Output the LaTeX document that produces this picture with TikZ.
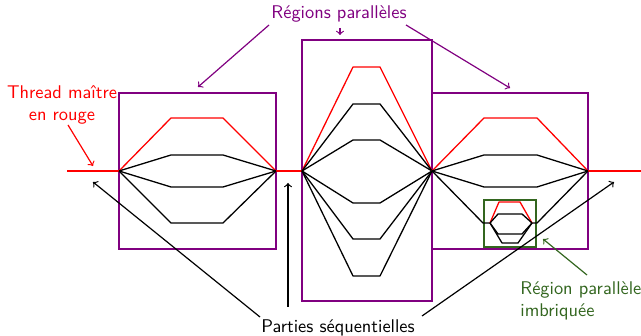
\documentclass[tikz,border=0pt]{standalone}
\usetikzlibrary{fit}
\definecolor{regviolet}{rgb}{0.5,0,0.5}
\definecolor{nestgreen}{rgb}{0.2,0.4,0.12}
\begin{document}
\begin{tikzpicture}[x=0.5435pt, y=-0.5435pt, font=\sffamily,
  regbox/.style={draw=regviolet, line width=0.9pt, inner sep=0pt},
  nestbox/.style={draw=nestgreen, line width=0.9pt, inner sep=0pt},
  thr/.style={line width=0.7pt, line join=round},
  master/.style={thr, red},
  lbl/.style={inner sep=0pt, align=center},
  parr/.style={->, line width=0.65pt, regviolet},
  sarr/.style={->, line width=0.65pt, black},
  marr/.style={->, line width=0.65pt, red},
  narr/.style={->, line width=0.65pt, nestgreen}]
\useasboundingbox (0,0) rectangle (641,336);

% parallel regions
\node[regbox, fit={(119,93) (276,249)}] (r1) {};
\node[regbox, fit={(302,40) (432,301)}] (r2) {};
\node[regbox, fit={(432,93) (588,249)}] (r3) {};
\node[nestbox, fit={(484,200) (536,247)}] (r4) {};

% fork / join points
\coordinate (start) at (67,171);
\coordinate (f1) at (119,171);
\coordinate (j1) at (276,171);
\coordinate (f2) at (302,171);
\coordinate (j2) at (432,171);
\coordinate (f3) at (432,171);
\coordinate (j3) at (588,171);
\coordinate (stop) at (641,171);
\coordinate (n1) at (490,223);
\coordinate (n2) at (532,223);

% sequential parts of the master thread
\draw[master] (start) -- (f1);
\draw[master] (j1) -- (f2);
\draw[master] (j3) -- (stop);

% region 1
\draw[master] (f1) -- (171,118) -- (223,118) -- (j1);
\foreach \y in {155,187,223}
  \draw[thr] (f1) -- (171,\y) -- (223,\y) -- (j1);

% region 2
\draw[master] (f2) -- (353,67) -- (380,67) -- (j2);
\foreach \y in {104,140,203,239,276}
  \draw[thr] (f2) -- (353,\y) -- (380,\y) -- (j2);

% region 3
\draw[master] (f3) -- (484,118) -- (537,118) -- (j3);
\foreach \y in {155,187}
  \draw[thr] (f3) -- (484,\y) -- (537,\y) -- (j3);
\draw[thr] (f3) -- (483,223) -- (n1);
\draw[thr] (n2) -- (537,223) -- (j3);

% nested region
\draw[master] (n1) -- (499,202) -- (520,202) -- (n2);
\draw[thr] (n1) -- (498,214) -- (522,214) -- (n2);
\draw[thr] (n1) -- (498,234) -- (522,234) -- (n2);
\draw[thr] (n1) -- (502,243) -- (518,243) -- (n2);

% labels
\node[lbl, text=regviolet] (lpar) at (339,14) {Régions parallèles};
\node[lbl, text=red] (lmaster) at (62,105) {Thread maître\\en rouge};
\node[lbl] (lseq) at (338,327.5) {Parties séquentielles};
\node[lbl, text=nestgreen, align=left, anchor=west] (lnest) at (520,301) {Région parallèle\\imbriquée};

% arrow ends
\coordinate (pa1) at (269,25);   \coordinate (pb1) at (198,87);
\coordinate (pa2) at (340,28);   \coordinate (pb2) at (340,35);
\coordinate (pa3) at (406,25);   \coordinate (pb3) at (510,88);
\coordinate (ma) at (68,125);    \coordinate (mb) at (93,166);
\coordinate (sa1) at (260,317);  \coordinate (sb1) at (93,182);
\coordinate (sa2) at (288,307);  \coordinate (sb2) at (288,183);
\coordinate (sa3) at (422,316);  \coordinate (sb3) at (614,182);
\coordinate (na) at (587,275);   \coordinate (nb) at (543,239);

\draw[parr] (pa1) -- (pb1);
\draw[parr] (pa2) -- (pb2);
\draw[parr] (pa3) -- (pb3);
\draw[marr] (ma) -- (mb);
\draw[sarr] (sa1) -- (sb1);
\draw[sarr] (sa2) -- (sb2);
\draw[sarr] (sa3) -- (sb3);
\draw[narr] (na) -- (nb);
\end{tikzpicture}
\end{document}
